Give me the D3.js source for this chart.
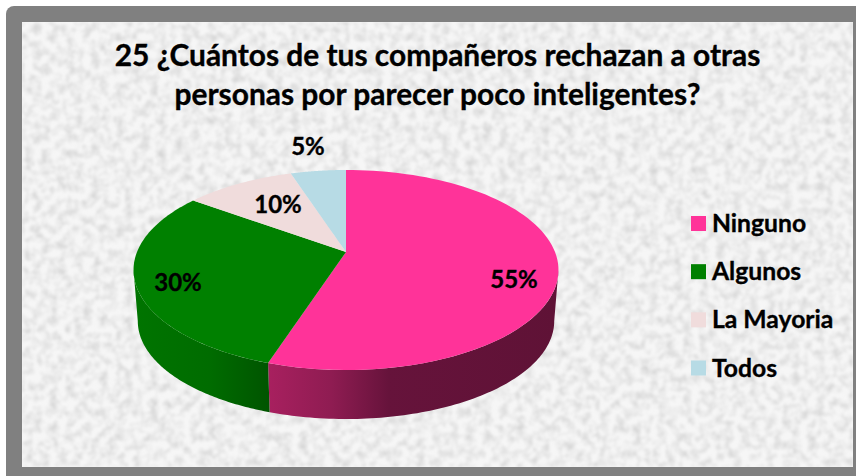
<!DOCTYPE html>
<html><head><meta charset="utf-8">
<script src="https://cdn.jsdelivr.net/npm/d3@7"></script>
<style>html,body{margin:0;padding:0;background:#fff}svg{display:block}text{font-family:Lato,"Open Sans",sans-serif;font-weight:700;fill:#000;stroke:#000;stroke-width:0.35px}</style>
</head><body><svg id="c" width="856" height="476"></svg>
<script>
const titleLines = ["25 ¿Cuántos de tus compañeros rechazan a otras","personas por parecer poco inteligentes?"];
const categories = ["Ninguno","Algunos","La Mayoria","Todos"];
const values = [55,30,10,5];
const labels = ["55%","30%","10%","5%"];
const colors = ["#ff3399","#008000","#f0dcdc","#b7dbe5"];

const svg = d3.select("#c");
const defs = svg.append("defs");
const f = defs.append("filter").attr("id","paper").attr("x",0).attr("y",0).attr("width","100%").attr("height","100%");
f.append("feTurbulence").attr("type","fractalNoise").attr("baseFrequency",0.12).attr("numOctaves",3).attr("seed",4);
f.append("feColorMatrix").attr("values","0 0 0 0 0.55  0 0 0 0 0.55  0 0 0 0 0.55  1.3 0 0 0 -0.5").attr("result","n");
f.append("feGaussianBlur").attr("stdDeviation",0.8);

const pinkG = defs.append("linearGradient").attr("id","gPink").attr("gradientUnits","userSpaceOnUse").attr("x1",268).attr("x2",556).attr("y1",0).attr("y2",0);
[[0,"#a8205f"],[0.22,"#8f1c52"],[0.42,"#66133b"],[1,"#5f1236"]].forEach(s=>pinkG.append("stop").attr("offset",s[0]).attr("stop-color",s[1]));
const greenG = defs.append("linearGradient").attr("id","gGreen").attr("gradientUnits","userSpaceOnUse").attr("x1",136).attr("x2",270).attr("y1",0).attr("y2",0);
[[0,"#007400"],[0.55,"#006c00"],[1,"#005400"]].forEach(s=>greenG.append("stop").attr("offset",s[0]).attr("stop-color",s[1]));

// frame
const fr=d3.path();fr.moveTo(6,476);fr.lineTo(6,14);fr.arcTo(6,6,14,6,8);fr.lineTo(856,6);fr.lineTo(856,476);fr.closePath();
svg.append("path").attr("d",fr.toString()).attr("fill","#808080");
svg.append("rect").attr("x",22).attr("y",22).attr("width",831).attr("height",445).attr("fill","#f6f6f6");
svg.append("rect").attr("x",22).attr("y",22).attr("width",831).attr("height",445).attr("fill","#fff").attr("filter","url(#paper)");

// title
svg.selectAll("text.t").data(titleLines).join("text").attr("class","t")
  .attr("x",437.5).attr("y",(d,i)=>66+i*39).attr("text-anchor","middle").attr("font-size",29.9).text(d=>d);

// perspective projection of the pie disc
const cx=346, apexY=252, Rx=209, S=96.76, k=0.18, shrink=0.98, drop=51.4;
function topPt(a){const X=Math.sin(a),Y=Math.cos(a),w=1+k*Y;return [cx+Rx*X/w,apexY-S*Y/w];}
function botPt(a){const p=topPt(a);return [cx+(p[0]-cx)*shrink,apexY+(p[1]-apexY)*shrink+drop];}
const line=d3.line();
const arcs=d3.pie().sort(null)(values);
const samples=(a0,a1)=>d3.range(0,91).map(i=>a0+(a1-a0)*i/90);

// side walls, from the silhouette tangent points to the slice seam
const tangent=Math.acos(-k);
const wall=(a0,a1,fill)=>{const s=samples(a0,a1);
  svg.append("path").attr("d",line(s.map(topPt).concat(s.slice().reverse().map(botPt)))+"Z").attr("fill",fill);};
wall(tangent,arcs[0].endAngle,"url(#gPink)");
wall(arcs[0].endAngle,2*Math.PI-tangent,"url(#gGreen)");

// top faces
svg.selectAll("path.s").data(arcs).join("path").attr("class","s")
  .attr("d",d=>line([[cx,apexY]].concat(samples(d.startAngle,d.endAngle).map(topPt)))+"Z")
  .attr("fill",(d,i)=>colors[i]);

// data labels
const labelPos=[[514,279],[178,282],[278,204],[308,146]];
svg.selectAll("text.l").data(labels).join("text").attr("class","l")
  .attr("x",(d,i)=>labelPos[i][0]).attr("y",(d,i)=>labelPos[i][1]+8.5).attr("text-anchor","middle").attr("font-size",24).text(d=>d);

// legend
const ly=d3.scalePoint().domain(categories).range([223.5,368]);
const lg=svg.selectAll("g.lg").data(categories).join("g").attr("class","lg").attr("transform",d=>`translate(691,${ly(d)})`);
lg.append("rect").attr("x",0).attr("y",-7.5).attr("width",15).attr("height",15).attr("fill",(d,i)=>colors[i]);
lg.append("text").attr("x",21).attr("y",8.5).attr("font-size",24.7).text(d=>d);
</script></body></html>
